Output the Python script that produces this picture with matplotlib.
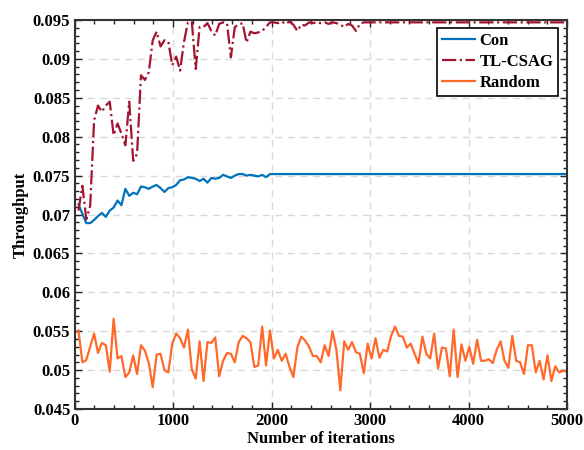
import numpy as np
import matplotlib.pyplot as plt
from matplotlib.ticker import MultipleLocator

plt.rcParams['font.family'] = 'Liberation Serif'
plt.rcParams['font.weight'] = 'bold'

# throughput, one value per sample
random_vals = [0.0551, 0.0510, 0.0513, 0.0530, 0.0547, 0.0522, 0.0535, 0.0532, 0.0498, 0.0566,
               0.0515, 0.0518, 0.0491, 0.0497, 0.0519, 0.0495, 0.0532, 0.0525, 0.0509, 0.0478,
               0.0520, 0.0521, 0.0500, 0.0497, 0.0534, 0.0547, 0.0541, 0.0529, 0.0552,
               0.0501, 0.0489, 0.0537, 0.0486, 0.0536, 0.0535, 0.0542, 0.0492, 0.0512, 0.0522,
               0.0521, 0.0510, 0.0536, 0.0544, 0.0541, 0.0536, 0.0504, 0.0506, 0.0556, 0.0506,
               0.0551, 0.0515, 0.0526, 0.0512, 0.0521, 0.0504, 0.0491, 0.0529, 0.0543, 0.0538,
               0.0530, 0.0518,
               0.0518, 0.0510, 0.0532, 0.0518, 0.0550, 0.0526, 0.0474, 0.0537, 0.0526, 0.0536,
               0.0523, 0.0521, 0.0496, 0.0534, 0.0515, 0.0541, 0.0516, 0.0526, 0.0524, 0.0544,
               0.0556, 0.0544, 0.0543, 0.0529, 0.0534, 0.0521, 0.0509, 0.0543, 0.0521, 0.0515,
               0.0547, 0.0502,
               0.0529, 0.0528, 0.0492, 0.0552, 0.0491, 0.0533, 0.0512, 0.0530, 0.0508, 0.0539,
               0.0512, 0.0512, 0.0514, 0.0509, 0.0526, 0.0537, 0.0512, 0.0503, 0.0544, 0.0512,
               0.0510, 0.0495, 0.0532, 0.0532, 0.0497, 0.0512, 0.0488, 0.0519, 0.0486, 0.0505,
               0.0497, 0.0499, 0.0498]

N = len(random_vals)
iters = np.linspace(40, 5000, N)

con_head = [0.0713, 0.0701, 0.0689, 0.0689, 0.0693, 0.0698, 0.0702, 0.0697, 0.0705, 0.0709,
            0.0718, 0.0712, 0.0733, 0.0724, 0.0728, 0.0726, 0.0736, 0.0735, 0.0733, 0.0736,
            0.0738, 0.0734, 0.0729, 0.0734, 0.0735, 0.0738, 0.0744, 0.0745, 0.0748, 0.0747,
            0.0746, 0.0743, 0.0746, 0.0741, 0.0747, 0.0746, 0.0747, 0.0751, 0.0749, 0.0747,
            0.0750, 0.0752, 0.0752, 0.0750, 0.0751, 0.0750, 0.0749, 0.0751, 0.0748, 0.0752]
con_plateau = 0.0752
con = con_head + [con_plateau] * (N - len(con_head))

tl_head = [0.0705, 0.0737, 0.0694, 0.0711, 0.0821, 0.0840, 0.0832, 0.0840, 0.0845, 0.0802,
           0.0817, 0.0804, 0.0789, 0.0845, 0.0769, 0.0778, 0.0879, 0.0873, 0.0883, 0.0924,
           0.0935, 0.0916, 0.0924, 0.0922, 0.0892, 0.0903, 0.0885, 0.0922, 0.0947, 0.0948,
           0.0887, 0.0941, 0.0941, 0.0946, 0.0936, 0.0930, 0.0945, 0.0947, 0.0946, 0.0902,
           0.0941, 0.0944, 0.0946, 0.0921, 0.0935, 0.0933, 0.0934, 0.0936, 0.0941, 0.0947,
           0.0947, 0.0946, 0.0948, 0.0945, 0.0948, 0.0944, 0.0936, 0.0944, 0.0943, 0.0947,
           0.0946, 0.0947, 0.0946, 0.0947, 0.0945, 0.0947, 0.0946, 0.0944, 0.0941, 0.0945,
           0.0943, 0.0936, 0.0945, 0.0947]
tl_plateau = 0.0947
tl = tl_head + [tl_plateau] * (N - len(tl_head))

fig = plt.figure(figsize=(5.84, 4.5), dpi=100)
ax = fig.add_axes([0.1276, 0.0911, 0.8433, 0.8644])

ax.plot(iters, con, color='#0072BD', lw=1.6, label='Con')
ax.plot(iters, tl, color='#A2142F', lw=1.6, ls='-.', label='TL-CSAG')
ax.plot(iters, random_vals, color='#FF6A2A', lw=1.6, label='Random')

ax.set_xlim(0, 5000)
ax.set_ylim(0.045, 0.095)
ax.xaxis.set_major_locator(MultipleLocator(1000))
ax.xaxis.set_minor_locator(MultipleLocator(200))
yt = np.arange(0.045, 0.0951, 0.005)
ax.set_yticks(yt)
ax.set_yticklabels(['%g' % round(v, 3) for v in yt])
ax.yaxis.set_minor_locator(MultipleLocator(0.001))

ax.tick_params(which='both', direction='in', top=True, right=True, labelsize=12, colors='#222222')
ax.tick_params(which='major', length=5, width=1, pad=3)
ax.tick_params(which='minor', length=3, width=1)
for lab in ax.get_xticklabels() + ax.get_yticklabels():
    lab.set_fontweight('bold')
    lab.set_color('black')
for s in ax.spines.values():
    s.set_linewidth(1.5)
    s.set_color('#333333')

ax.grid(True, which='major', ls=(0, (5, 4)), color='#d9d9d9', lw=1)

ax.set_xlabel('Number of iterations', fontsize=12, fontweight='bold', labelpad=1)
ax.set_ylabel('Throughput', fontsize=12, fontweight='bold', labelpad=3)

leg = ax.legend(loc='upper right', bbox_to_anchor=(0.982, 0.979), fancybox=False,
                edgecolor='black', framealpha=1, handlelength=2.0, borderpad=0.3,
                labelspacing=0.3, handletextpad=0.25, borderaxespad=0,
                prop={'weight': 'bold', 'size': 12})
leg.get_frame().set_linewidth(1.2)

fig.savefig('out.png', dpi=100)
